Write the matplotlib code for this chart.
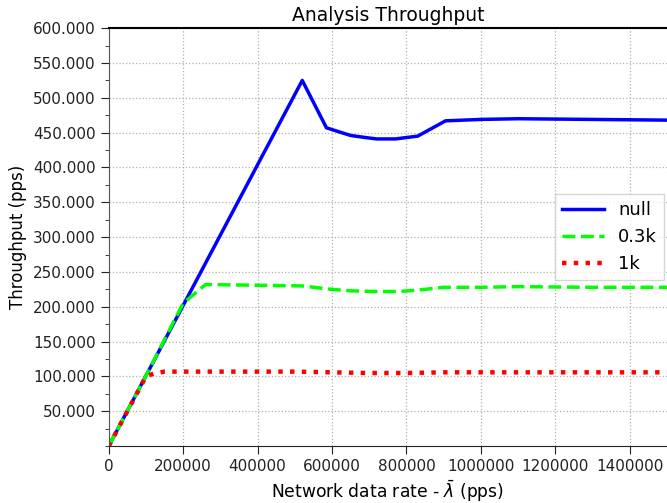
import matplotlib
matplotlib.use("Agg")
import matplotlib.pyplot as plt
import matplotlib.ticker as mticker

# data
x_null = [0, 100000, 200000, 300000, 400000, 520000, 585000, 620000, 650000,
          690000, 720000, 770000, 830000, 905000, 1000000, 1100000, 1300000, 1500000]
y_null = [0, 101, 202, 303, 404, 525, 457, 451, 446, 443, 441, 441, 445, 467,
          469, 470, 469, 468]

x_03k = [0, 100000, 200000, 260000, 400000, 520000, 600000, 650000, 720000,
         780000, 830000, 900000, 1000000, 1100000, 1300000, 1500000]
y_03k = [0, 101, 205, 232, 231, 230, 225, 223, 222, 222, 224, 228, 228, 229,
         228, 228]

x_1k = [0, 100000, 120000, 150000, 300000, 500000, 600000, 700000, 800000,
        900000, 1000000, 1200000, 1500000]
y_1k = [0, 100, 104, 107, 107, 107, 106, 105, 105, 106, 106, 106, 106]

fig = plt.figure(figsize=(6.67, 5.03), dpi=100)
ax = fig.add_axes([0.163, 0.113, 0.837, 0.831])

ax.plot(x_null, y_null, '-', color='blue', linewidth=2.5, label='null')
ax.plot(x_03k, y_03k, '--', color='lime', linewidth=2.5, label='0.3k')
ax.plot(x_1k, y_1k, ':', color='red', linewidth=3.2, label='1k')

ax.set_xlim(0, 1500000)
ax.set_ylim(0, 600)
ax.set_yticks(range(50, 601, 50))
ax.yaxis.set_minor_locator(mticker.MultipleLocator(25))
ax.yaxis.set_major_formatter(mticker.FormatStrFormatter('%.3f'))
ax.xaxis.set_major_locator(mticker.MultipleLocator(200000))
ax.xaxis.set_major_formatter(mticker.FormatStrFormatter('%d'))

ax.tick_params(axis='both', which='major', direction='out', length=6,
               labelsize=11, colors='#222222', top=False, right=False)
ax.tick_params(axis='y', which='minor', direction='out', length=3,
               color='#222222')
ax.spines['right'].set_visible(False)
ax.spines['left'].set_color('#555555')
ax.spines['bottom'].set_color('#222222')
ax.spines['top'].set_linewidth(1.5)

ax.grid(True, linestyle=':', color='#b0b0b0', linewidth=0.9)

ax.set_title("Analysis Throughput", fontsize=13.5, pad=5)
ax.set_xlabel(r"Network data rate - $\bar{\lambda}$ (pps)", fontsize=12.3,
              labelpad=3)
ax.set_ylabel("Throughput (pps)", fontsize=12)

leg = ax.legend(loc='center right', bbox_to_anchor=(1.0, 0.5), fontsize=13,
                borderaxespad=0.15, fancybox=False, handlelength=2.3)
leg.get_frame().set_edgecolor('#cccccc')

fig.savefig("out.png", dpi=100)
